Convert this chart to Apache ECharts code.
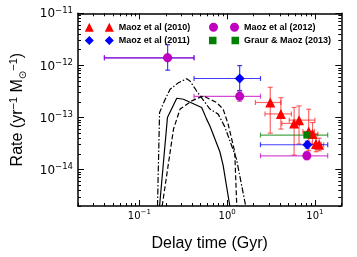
<!DOCTYPE html>
<html><head><meta charset="utf-8">
<script src="https://cdn.jsdelivr.net/npm/echarts@6/dist/echarts.min.js"></script>
<style>html,body{margin:0;padding:0;background:#fff}#c{width:357px;height:257px}</style>
</head><body><div id="c"></div>
<script>
// ---- axis ranges / tick labels (decade exponents) ----
const xRange = [0.02, 20];
const yRange = [2e-15, 1e-11];
const xTickExp = [-1, 0, 1];
const yTickExp = [-14, -13, -12, -11];

// ---- Maoz et al (2010): delay time (Gyr) and rate ----
const maoz10T    = [3.1, 4.1, 5.8, 6.6, 8.5, 9.4, 10.3, 11.2];
const maoz10TLo  = [2.1, 2.7, 4.2, 5.1, 7.3, 8.2, 9.0, 10.0];
const maoz10THi  = [4.1, 5.4, 6.7, 10.0, 9.9, 10.8, 11.8, 12.6];
const maoz10R    = [1.94e-13, 1.17e-13, 7.7e-14, 8.9e-14, 5.4e-14, 4.8e-14, 3.1e-14, 3.0e-14];
const maoz10RLo  = [5.0e-14, 6.0e-14, 1.9e-14, 3.1e-14, 2.3e-14, 3.0e-14, 2.2e-14, 2.3e-14];
const maoz10RHi  = [3.8e-13, 2.4e-13, 1.56e-13, 1.67e-13, 1.44e-13, 8.0e-14, 4.8e-14, 4.0e-14];

// ---- Maoz et al (2011) ----
const maoz11T   = [0.21, 1.39, 8.2];
const maoz11TLo = [0.04, 0.42, 2.4];
const maoz11THi = [0.42, 2.4, 14];
const maoz11R   = [1.4e-12, 5.6e-13, 3.0e-14];
const maoz11RLo = [8.1e-13, 3.3e-13, 2.6e-14];
const maoz11RHi = [2.5e-12, 9.9e-13, 3.5e-14];

// ---- Maoz et al (2012) ----
const maoz12T   = [0.21, 1.39, 8.1];
const maoz12TLo = [0.04, 0.42, 2.4];
const maoz12THi = [0.42, 2.4, 14];
const maoz12R   = [1.4e-12, 2.55e-13, 1.84e-14];
const maoz12RLo = [1.25e-12, 2.05e-13, 1.55e-14];
const maoz12RHi = [1.55e-12, 3.2e-13, 2.2e-14];

// ---- Graur & Maoz (2013) ----
const graur13T   = [8.1];
const graur13TLo = [2.4];
const graur13THi = [14];
const graur13R   = [4.6e-14];
const graur13RLo = [4.1e-14];
const graur13RHi = [5.2e-14];

// ---- model DTD curves ----
const solidT = [0.170, 0.209, 0.267, 0.318, 0.513, 0.584, 0.637, 0.827, 0.901, 1.073];
const solidR = [2e-15, 1.0e-13, 2.34e-13, 2.24e-13, 1.56e-13, 9.3e-14, 6.85e-14, 2.2e-14, 1.2e-14, 2e-15];
const dashedT = [0.182, 0.245, 0.291, 0.395, 0.535, 0.759, 0.901, 1.026, 1.222, 1.288];
const dashedR = [2e-15, 6.0e-14, 1.45e-13, 2.08e-13, 2.59e-13, 1.94e-13, 1.45e-13, 7.5e-14, 2.2e-14, 2e-15];
const dashdotT = [0.161, 0.170, 0.197, 0.224, 0.279, 0.347, 0.378, 0.450, 0.637, 0.791, 0.942, 1.278, 1.628];
const dashdotR = [2e-15, 1.25e-13, 2.24e-13, 3.47e-13, 4.66e-13, 5.55e-13, 4.99e-13, 3.22e-13, 1.45e-13, 1.16e-13, 6.6e-14, 1.6e-14, 2e-15];

const L = Math.log10;
const XMIN = L(xRange[0]), XMAX = L(xRange[1]);
const YMIN = L(yRange[0]), YMAX = L(yRange[1]);

function minorTicks(lo, hi) {
  const out = [];
  for (let e = Math.floor(lo) - 1; e <= Math.ceil(hi); e++) {
    for (let m = 2; m <= 9; m++) {
      const v = e + L(m);
      if (v >= lo - 1e-9 && v <= hi + 1e-9) out.push(v);
    }
  }
  return out;
}
const xMinor = minorTicks(XMIN, XMAX);
const yMinor = minorTicks(YMIN, YMAX);

const expStr = n => (n < 0 ? '\u2212' + (-n) : '' + n);

const FONT = 'DejaVu Sans';
const TFONT = 'Liberation Sans';

function makeX(pos, major, withLabel) {
  const ax = {
    type: 'value', position: pos, min: XMIN, max: XMAX,
    axisLine: { show: major, onZero: false, lineStyle: { color: '#000', width: 1.5 } },
    axisTick: { show: true, inside: true, length: major ? 6 : 3, customValues: major ? xTickExp : xMinor,
      lineStyle: { color: '#000', width: 1 } },
    axisLabel: { show: !!withLabel },
    splitLine: { show: false }
  };
  if (withLabel) {
    ax.axisLabel = {
      show: true, customValues: xTickExp, margin: 3,
      formatter: v => '{b|10}{s|' + expStr(Math.round(v)) + '}',
      rich: {
        b: { fontFamily: FONT, fontSize: 10, color: '#000', lineHeight: 12, verticalAlign: 'bottom' },
        s: { fontFamily: FONT, fontSize: 7, color: '#000', lineHeight: 12, verticalAlign: 'top' }
      }
    };
    ax.name = 'Delay time (Gyr)';
    ax.nameLocation = 'middle';
    ax.nameGap = 30;
    ax.nameTextStyle = { fontFamily: TFONT, fontSize: 16, color: '#000' };
  }
  return ax;
}
function makeY(pos, major, withLabel) {
  const ax = {
    type: 'value', position: pos, min: YMIN, max: YMAX,
    axisLine: { show: major, onZero: false, lineStyle: { color: '#000', width: 1.5 } },
    axisTick: { show: true, inside: true, length: major ? 6 : 3, customValues: major ? yTickExp : yMinor,
      lineStyle: { color: '#000', width: 1 } },
    axisLabel: { show: !!withLabel },
    splitLine: { show: false }
  };
  if (withLabel) {
    ax.axisLabel = {
      show: true, customValues: yTickExp, margin: 5,
      formatter: v => '{b|10}{s|' + expStr(Math.round(v)) + '}',
      rich: {
        b: { fontFamily: FONT, fontSize: 12, color: '#000', lineHeight: 14, verticalAlign: 'bottom' },
        s: { fontFamily: FONT, fontSize: 8.5, color: '#000', lineHeight: 14, verticalAlign: 'top' }
      }
    };
    ax.name = 'Rate (yr{s|\u22121} M{d|\u2299}{s|\u22121})';
    ax.nameLocation = 'middle';
    ax.nameGap = 50;
    ax.nameTextStyle = {
      fontFamily: TFONT, fontSize: 16, color: '#000',
      rich: {
        s: { fontFamily: TFONT, fontSize: 11, color: '#000', lineHeight: 20, verticalAlign: 'top' },
        d: { fontFamily: FONT, fontSize: 10, color: '#000', lineHeight: 20, verticalAlign: 'bottom' }
      }
    };
  }
  return ax;
}

function toErr(T, TLo, THi, R, RLo, RHi) {
  return T.map((t, i) => [L(t), L(R[i]), L(TLo[i]), L(THi[i]), L(RLo[i]), L(RHi[i])]);
}
function errSeries(name, data, color) {
  return {
    type: 'custom', name: name + ' err', data: data, xAxisIndex: 0, yAxisIndex: 0,
    silent: true, animation: false,
    renderItem: function (params, api) {
      const x = api.value(0), y = api.value(1);
      const a = api.coord([api.value(2), y]), b = api.coord([api.value(3), y]);
      const c = api.coord([x, api.value(4)]), d = api.coord([x, api.value(5)]);
      const cap = 2.5;
      const st = { stroke: color, lineWidth: 1.2, fill: null };
      const ln = (x1, y1, x2, y2) => ({ type: 'line', shape: { x1, y1, x2, y2 }, style: st });
      return { type: 'group', children: [
        ln(a[0], a[1], b[0], b[1]),
        ln(a[0], a[1] - cap, a[0], a[1] + cap),
        ln(b[0], b[1] - cap, b[0], b[1] + cap),
        ln(c[0], c[1], d[0], d[1]),
        ln(c[0] - cap, c[1], c[0] + cap, c[1]),
        ln(d[0] - cap, d[1], d[0] + cap, d[1])
      ]};
    }
  };
}
function markSeries(name, data, color, symbol, size) {
  return {
    type: 'scatter', name: name, data: data.map(r => [r[0], r[1]]),
    xAxisIndex: 0, yAxisIndex: 0, symbol: symbol, symbolSize: size,
    itemStyle: { color: color, opacity: 1 }, silent: true, animation: false
  };
}
function lineSeries(name, T, R, type) {
  return {
    type: 'line', name: name, data: T.map((t, i) => [L(t), L(R[i])]),
    xAxisIndex: 0, yAxisIndex: 0, showSymbol: false, symbol: 'none', clip: true,
    lineStyle: { color: '#000', width: 1.2, type: type }, silent: true, animation: false
  };
}

const RED = '#ff0000', BLUE = '#0000ff', MAG = '#bf00bf', GRN = '#008000';
const d10 = toErr(maoz10T, maoz10TLo, maoz10THi, maoz10R, maoz10RLo, maoz10RHi);
const d11 = toErr(maoz11T, maoz11TLo, maoz11THi, maoz11R, maoz11RLo, maoz11RHi);
const d12 = toErr(maoz12T, maoz12TLo, maoz12THi, maoz12R, maoz12RLo, maoz12RHi);
const d13 = toErr(graur13T, graur13TLo, graur13THi, graur13R, graur13RLo, graur13RHi);

const n10 = 'Maoz et al (2010)', n11 = 'Maoz et al (2011)', n12 = 'Maoz et al (2012)', n13 = 'Graur & Maoz (2013)';

const legendText = { fontFamily: TFONT, fontWeight: 'bold', fontSize: 9, color: '#000', lineHeight: 11 };
const option = {
  animation: false,
  grid: { left: 76, right: 15.7, top: 13.3, bottom: 49.3, containLabel: false },
  xAxis: [makeX('bottom', true, true), makeX('bottom', false), makeX('top', true), makeX('top', false)],
  yAxis: [makeY('left', true, true), makeY('left', false), makeY('right', true), makeY('right', false)],
  legend: [
    { orient: 'vertical', left: 84.8, top: 21.7, itemGap: 2.3, itemWidth: 29, itemHeight: 9, padding: 0,
      textStyle: legendText, selectedMode: false,
      data: [
        { name: n10, icon: 'path://M0,9L4.5,0L9,9Z M20,9L24.5,0L29,9Z' },
        { name: n11, icon: 'path://M4.5,0L9,4.5L4.5,9L0,4.5Z M24.5,0L29,4.5L24.5,9L20,4.5Z' }
      ] },
    { orient: 'vertical', left: 209, top: 21.7, itemGap: 2.3, itemWidth: 30, itemHeight: 9, padding: 0,
      textStyle: legendText, selectedMode: false,
      data: [
        { name: n12, icon: 'path://M0,4.5a4.5,4.5 0 1,0 9,0a4.5,4.5 0 1,0 -9,0Z M21,4.5a4.5,4.5 0 1,0 9,0a4.5,4.5 0 1,0 -9,0Z' },
        { name: n13, icon: 'path://M1,1L8,1L8,8L1,8Z M22,1L29,1L29,8L22,8Z' }
      ] }
  ],
  series: [
    lineSeries('solid', solidT, solidR, 'solid'),
    lineSeries('dashed', dashedT, dashedR, [5, 2.5]),
    lineSeries('dashdot', dashdotT, dashdotR, [6, 2, 1.5, 2]),
    errSeries(n10, d10, 'rgba(255,0,0,0.6)'),
    markSeries(n10, d10, RED, 'triangle', 10),
    errSeries(n11, d11, 'rgba(0,0,255,0.75)'),
    markSeries(n11, d11, BLUE, 'diamond', 10),
    errSeries(n12, d12, 'rgba(191,0,191,0.7)'),
    markSeries(n12, d12, MAG, 'circle', 9),
    errSeries(n13, d13, 'rgba(0,128,0,0.7)'),
    markSeries(n13, d13, GRN, 'rect', 7)
  ]
};
const chart = echarts.init(document.getElementById('c'), null, { renderer: 'canvas' });
chart.setOption(option);
</script>
</body></html>
